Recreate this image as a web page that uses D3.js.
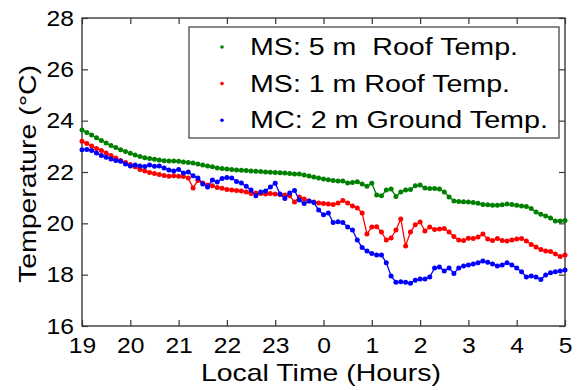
<!DOCTYPE html>
<html>
<head>
<meta charset="utf-8">
<script src="https://cdn.jsdelivr.net/npm/d3@7"></script>
<style>
  body { margin: 0; background: #fff; }
  text { font-family: "Liberation Sans", Arial, sans-serif; fill: #000; }
</style>
</head>
<body>
<svg id="chart" width="578" height="390"></svg>
<script>
// Overnight temperature records, one sample every 6 minutes from 19:00 to 05:00
const startHour = 19;
const stepHours = 0.1;
const xTickLabels = ["19", "20", "21", "22", "23", "0", "1", "2", "3", "4", "5"];
const yTickValues = [16, 18, 20, 22, 24, 26, 28];

const roof5m = [23.64,23.54,23.44,23.33,23.23,23.13,23.03,22.95,22.87,22.80,
  22.73,22.66,22.60,22.56,22.53,22.50,22.47,22.44,22.43,22.43,
  22.42,22.39,22.37,22.35,22.31,22.27,22.23,22.20,22.16,22.14,
  22.12,22.10,22.08,22.07,22.06,22.04,22.03,22.02,22.00,21.99,
  21.98,21.97,21.96,21.94,21.92,21.92,21.88,21.84,21.81,21.77,
  21.73,21.70,21.67,21.65,21.65,21.57,21.59,21.62,21.53,21.44,
  21.56,21.10,21.07,21.30,21.34,21.05,21.22,21.30,21.32,21.46,
  21.49,21.38,21.36,21.36,21.34,21.22,21.03,20.87,20.85,20.84,
  20.83,20.81,20.78,20.73,20.72,20.70,20.70,20.72,20.75,20.73,
  20.70,20.68,20.66,20.58,20.44,20.35,20.29,20.21,20.09,20.09,
  20.11];

const roof1m = [23.20,23.11,23.01,22.92,22.84,22.74,22.64,22.55,22.45,22.37,
  22.29,22.20,22.10,22.04,21.98,21.94,21.90,21.86,21.83,21.85,
  21.83,21.82,21.77,21.38,21.67,21.57,21.49,21.46,21.40,21.37,
  21.32,21.30,21.28,21.26,21.22,21.16,21.18,21.16,21.14,21.16,
  21.14,21.12,21.10,21.07,20.83,21.03,20.95,20.87,20.83,20.79,
  20.77,20.75,20.73,20.79,20.89,20.79,20.68,20.60,20.40,19.58,
  19.86,19.87,19.66,19.35,19.43,19.74,20.17,19.12,19.66,19.94,
  20.05,19.70,19.86,19.76,19.78,19.80,19.66,19.49,19.35,19.33,
  19.42,19.41,19.47,19.58,19.39,19.33,19.41,19.33,19.31,19.35,
  19.39,19.41,19.31,19.18,19.08,18.98,18.92,18.90,18.81,18.71,
  18.77];

const ground2m = [22.87,22.88,22.84,22.74,22.64,22.57,22.51,22.45,22.42,22.31,
  22.23,22.27,22.23,22.21,22.27,22.22,22.23,22.16,22.08,22.04,
  22.10,21.96,22.00,21.85,21.77,21.53,21.42,21.69,21.61,21.75,
  21.79,21.77,21.63,21.57,21.44,21.30,21.07,21.22,21.26,21.42,
  21.56,21.14,20.97,21.18,21.28,20.91,20.77,20.87,20.81,20.52,
  20.33,20.40,20.03,20.06,20.03,19.86,19.74,19.35,19.06,18.92,
  18.82,18.77,18.77,18.46,17.95,17.70,17.72,17.70,17.67,17.78,
  17.83,17.83,17.91,18.26,18.30,18.14,18.26,18.05,18.26,18.34,
  18.38,18.42,18.46,18.53,18.48,18.42,18.34,18.38,18.46,18.38,
  18.26,18.11,17.91,17.95,17.91,17.81,17.99,18.07,18.11,18.14,
  18.18];

const seriesNames = ["MS: 5 m  Roof Temp.", "MS: 1 m Roof Temp.", "MC: 2 m Ground Temp."];
const seriesColors = ["#008000", "#ff0000", "#0000ff"];
const seriesValues = [roof5m, roof1m, ground2m];

const plot = { left: 82, right: 565, top: 18, bottom: 326 };
const axisColor = "#3a3a3a";
const textStretch = 1.12;

const svg = d3.select("#chart");

const x = d3.scaleLinear().domain([0, xTickLabels.length - 1]).range([plot.left, plot.right]);
const y = d3.scaleLinear().domain([16, 28]).range([plot.bottom, plot.top]);
const xTicks = d3.range(xTickLabels.length);

function stretchText(sel, factor) {
  sel.each(function () {
    const w = this.getComputedTextLength();
    d3.select(this).attr("textLength", w * factor).attr("lengthAdjust", "spacingAndGlyphs");
  });
}

function styleAxis(g) {
  g.select(".domain").remove();
  g.selectAll(".tick line").attr("stroke", axisColor).attr("stroke-width", 1.2);
  g.selectAll("text").attr("font-size", 22).attr("fill", "#000");
}

// Bottom and left axes with labels, ticks pointing into the plot
const gx = svg.append("g").attr("transform", `translate(0,${plot.bottom})`)
  .call(d3.axisBottom(x).tickValues(xTicks).tickFormat(i => xTickLabels[i])
    .tickSizeInner(-6).tickSizeOuter(0).tickPadding(11));
styleAxis(gx);
gx.selectAll("text").call(stretchText, textStretch);

const gy = svg.append("g").attr("transform", `translate(${plot.left},0)`)
  .call(d3.axisLeft(y).tickValues(yTickValues).tickFormat(d3.format("d"))
    .tickSizeInner(-6).tickSizeOuter(0).tickPadding(8));
styleAxis(gy);
gy.selectAll("text").call(stretchText, textStretch);

// Mirror ticks on top and right edges
const gt = svg.append("g").attr("transform", `translate(0,${plot.top})`)
  .call(d3.axisTop(x).tickValues(xTicks).tickFormat("").tickSizeInner(-6).tickSizeOuter(0));
styleAxis(gt);
const gr = svg.append("g").attr("transform", `translate(${plot.right},0)`)
  .call(d3.axisRight(y).tickValues(yTickValues).tickFormat("").tickSizeInner(-6).tickSizeOuter(0));
styleAxis(gr);

svg.append("rect")
  .attr("x", plot.left).attr("y", plot.top)
  .attr("width", plot.right - plot.left).attr("height", plot.bottom - plot.top)
  .attr("fill", "none").attr("stroke", axisColor).attr("stroke-width", 1.4);

// Series: thin connecting line with small dot markers
const line = d3.line().x((d, i) => x(i * stepHours)).y(d => y(d));
seriesValues.forEach((vals, k) => {
  const g = svg.append("g");
  g.append("path").datum(vals).attr("d", line)
    .attr("fill", "none").attr("stroke", seriesColors[k]).attr("stroke-width", 1.3);
  g.selectAll("circle").data(vals).join("circle")
    .attr("cx", (d, i) => x(i * stepHours)).attr("cy", d => y(d))
    .attr("r", 2.5).attr("fill", seriesColors[k]);
});

// Legend
const legendBox = { x: 189, y: 27, w: 370, h: 111 };
const legendWidths = [268, 260, 298];
const legend = svg.append("g");
legend.append("rect")
  .attr("x", legendBox.x).attr("y", legendBox.y)
  .attr("width", legendBox.w).attr("height", legendBox.h)
  .attr("fill", "#fff").attr("stroke", axisColor).attr("stroke-width", 1.2);
seriesNames.forEach((name, k) => {
  const base = 55 + k * 36.6;
  legend.append("circle").attr("cx", 222).attr("cy", base - 8).attr("r", 1.8)
    .attr("fill", seriesColors[k]);
  legend.append("text").attr("x", 250).attr("y", base)
    .attr("font-size", 23).style("white-space", "pre")
    .attr("textLength", legendWidths[k]).attr("lengthAdjust", "spacingAndGlyphs")
    .text(name);
});

// Axis titles
svg.append("text")
  .attr("x", 321).attr("y", 381)
  .attr("text-anchor", "middle").attr("font-size", 24)
  .attr("textLength", 240).attr("lengthAdjust", "spacingAndGlyphs")
  .text("Local Time (Hours)");

svg.append("text")
  .attr("transform", "translate(36,174) rotate(-90)")
  .attr("text-anchor", "middle").attr("font-size", 24)
  .attr("textLength", 218).attr("lengthAdjust", "spacingAndGlyphs")
  .text("Temperature (°C)");
</script>
</body>
</html>
